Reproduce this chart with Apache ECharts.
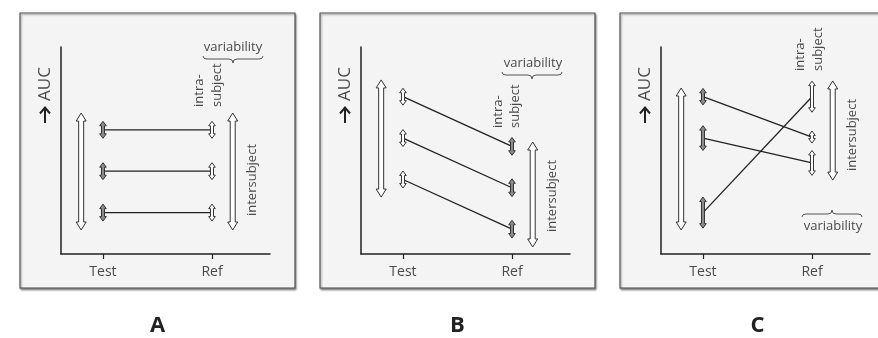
<!DOCTYPE html>
<html>
<head>
<meta charset="utf-8">
<script src="https://cdn.jsdelivr.net/npm/echarts@6/dist/echarts.min.js"></script>
<style>
  html, body { margin: 0; padding: 0; background: #ffffff; }
  #chart { width: 878px; height: 338px; }
</style>
</head>
<body>
<div id="chart"></div>
<script>
// Category tick labels on the horizontal axis (formulation)
const xCategories = ['Test', 'Ref'];
const panelLetters = ['A', 'B', 'C'];

// AUC per subject (arbitrary units), Test and Ref formulations
const testA = [60, 40, 20];
const refA = [60, 40, 20];
const testB = [76, 56, 36];
const refB = [52, 32, 12];
const testC = [76, 56, 20];
const refC = [56.5, 44, 76];

// Intra-subject half ranges (± around each subject's AUC)
const intraTestA = [4.1, 4.1, 4.1];
const intraRefA = [4.1, 4.1, 4.1];
const intraTestB = [4.1, 4.1, 4.1];
const intraRefB = [4.3, 4.3, 4.3];
const intraTestC = [4, 6, 7.5];
const intraRefC = [2.9, 6, 7.5];

// Intersubject ranges [low, high]
const interTestA = [11.6, 68.1];
const interRefA = [11.6, 68.1];
const interTestB = [27.5, 84.1];
const interRefB = [3.4, 54.1];
const interTestC = [11.6, 80.2];
const interRefC = [35.7, 83.6];

const panelsData = [
  { test: testA, ref: refA, intraTest: intraTestA, intraRef: intraRefA, interTest: interTestA, interRef: interRefA },
  { test: testB, ref: refB, intraTest: intraTestB, intraRef: intraRefB, interTest: interTestB, interRef: interRefB },
  { test: testC, ref: refC, intraTest: intraTestC, intraRef: intraRefC, interTest: interTestC, interRef: interRefC }
];

// ---- layout / style ----
const FONT = '"Open Sans", "Noto Sans", sans-serif';
const TEXT_COLOR = '#4a4a4a';
const INK = '#222';
const STEP = 300;                 // horizontal distance between panels
const INTER_X = [-0.2, 1.19];     // x position of the intersubject arrows (axis units)
const GRAY_SIDE = ['test', 'ref', 'test'];  // which formulation's small arrows are shaded

const chart = echarts.init(document.getElementById('chart'), null, { renderer: 'canvas' });

function arrowPoints(cx, yTop, yBot, big) {
  const sw = big ? 2.5 : 1.5;
  const hw = big ? 5 : 3.3;
  const hl = big ? 8 : 4.5;
  return [
    [cx, yTop],
    [cx + hw, yTop + hl],
    [cx + sw, yTop + hl],
    [cx + sw, yBot - hl],
    [cx + hw, yBot - hl],
    [cx, yBot],
    [cx - hw, yBot - hl],
    [cx - sw, yBot - hl],
    [cx - sw, yTop + hl],
    [cx - hw, yTop + hl]
  ];
}

function renderArrow(params, api) {
  const x = api.value(0);
  const lo = api.value(1);
  const hi = api.value(2);
  const kind = api.value(3);   // 0 = intersubject, 1 = small white, 2 = small shaded
  const top = api.coord([x, hi]);
  const bot = api.coord([x, lo]);
  return {
    type: 'polygon',
    shape: { points: arrowPoints(top[0], top[1], bot[1], kind === 0) },
    style: {
      fill: kind === 2 ? '#8c8c8c' : '#ffffff',
      stroke: '#333',
      lineWidth: 1
    },
    z2: 10
  };
}

const grids = [], xAxes = [], yAxes = [], series = [], graphics = [];

panelsData.forEach((p, i) => {
  const off = STEP * i;
  grids.push({ left: 61 + off, top: 47, width: 209, height: 207 });
  xAxes.push({
    type: 'value', gridIndex: i, min: -0.385, max: 1.532,
    axisLine: { show: true, onZero: false, lineStyle: { color: INK, width: 1.5 } },
    splitLine: { show: false },
    axisTick: { show: true, customValues: [0, 1], length: 5, lineStyle: { color: INK, width: 1.2 } },
    axisLabel: {
      show: true, customValues: [0, 1], margin: 11,
      formatter: v => xCategories[Math.round(v)],
      fontFamily: FONT, fontSize: 14, color: TEXT_COLOR
    }
  });
  yAxes.push({
    type: 'value', gridIndex: i, min: 0, max: 100,
    axisLine: { show: true, onZero: false, lineStyle: { color: INK, width: 1.5 } },
    splitLine: { show: false }, axisTick: { show: false }, axisLabel: { show: false }
  });

  // subject lines Test -> Ref
  p.test.forEach((t, k) => {
    series.push({
      type: 'line', xAxisIndex: i, yAxisIndex: i,
      data: [[0, t], [1, p.ref[k]]],
      symbol: 'none', silent: true, animation: false,
      lineStyle: { color: INK, width: 1.3 }, z: 3
    });
  });

  // arrows
  const arrows = [];
  arrows.push([INTER_X[0], p.interTest[0], p.interTest[1], 0]);
  arrows.push([INTER_X[1], p.interRef[0], p.interRef[1], 0]);
  p.test.forEach((t, k) => {
    arrows.push([0, t - p.intraTest[k], t + p.intraTest[k], GRAY_SIDE[i] === 'test' ? 2 : 1]);
  });
  p.ref.forEach((r, k) => {
    arrows.push([1, r - p.intraRef[k], r + p.intraRef[k], GRAY_SIDE[i] === 'ref' ? 2 : 1]);
  });
  series.push({
    type: 'custom', xAxisIndex: i, yAxisIndex: i,
    renderItem: renderArrow, data: arrows,
    encode: { x: 0, y: [1, 2] }, silent: true, animation: false, z: 5
  });

  // panel frame
  graphics.push({
    type: 'rect', z: -10,
    shape: { x: 20 + off, y: 13, width: 275, height: 275 },
    style: {
      fill: '#f4f4f4', stroke: '#4a4a4a', lineWidth: 1.1,
      shadowBlur: 2, shadowOffsetX: 1, shadowOffsetY: 1.5, shadowColor: 'rgba(0,0,0,0.4)'
    }
  });

  // "→ AUC"
  graphics.push({
    type: 'text', x: 45 + off, y: 84, rotation: Math.PI / 2, z: 20,
    style: { text: 'AUC', font: '17px ' + FONT, fill: TEXT_COLOR,
             align: 'center', verticalAlign: 'middle', textAlign: 'center', textVerticalAlign: 'middle' }
  });
  graphics.push({
    type: 'polyline', z: 20,
    shape: { points: [[45 + off, 123], [45 + off, 108]] },
    style: { stroke: INK, lineWidth: 2, fill: null }
  });
  graphics.push({
    type: 'polyline', z: 20,
    shape: { points: [[40 + off, 113.5], [45 + off, 107.5], [50 + off, 113.5]] },
    style: { stroke: INK, lineWidth: 2, fill: null }
  });

  // panel letter
  graphics.push({
    type: 'text', x: 157.5 + off, y: 326, z: 20,
    style: { text: panelLetters[i], font: 'bold 22px ' + FONT, fill: INK,
             align: 'center', verticalAlign: 'middle', textAlign: 'center', textVerticalAlign: 'middle' }
  });
});

// annotation texts: intersubject, intra-subject, variability with brace
const interLabel = [[252, 180], [552, 196], [852, 135]];
const intraLabel = [[199, 217, 107], [498, 515, 128], [800, 818, 71]];
const varLabel = [[233, 47, 233, 59, 1], [533, 63, 532, 75, 1], [833, 226, 832, 214, -1]];

interLabel.forEach(([x, y]) => {
  graphics.push({
    type: 'text', x, y, rotation: Math.PI / 2, z: 20,
    style: { text: 'intersubject', font: '13px ' + FONT, fill: TEXT_COLOR,
             align: 'center', verticalAlign: 'middle', textAlign: 'center', textVerticalAlign: 'middle' }
  });
});
intraLabel.forEach(([x1, x2, yb]) => {
  [['intra-', x1], ['subject', x2]].forEach(([t, x]) => {
    graphics.push({
      type: 'text', x, y: yb, rotation: Math.PI / 2, z: 20,
      style: { text: t, font: '13px ' + FONT, fill: TEXT_COLOR,
               align: 'left', verticalAlign: 'middle', textAlign: 'left', textVerticalAlign: 'middle' }
    });
  });
});

// curly brace made of quadratic curves and straight runs
function brace(cx, cy, d, w) {
  const st = { stroke: '#555', lineWidth: 1, fill: null };
  const curve = (x1, y1, cpx, cpy, x2, y2) => ({
    type: 'bezierCurve', z: 20, style: st,
    shape: { x1, y1, x2, y2, cpx1: cpx, cpy1: cpy }
  });
  const seg = (x1, y1, x2, y2) => ({ type: 'line', z: 20, style: st, shape: { x1, y1, x2, y2 } });
  return [
    curve(cx - w, cy - 3 * d, cx - w, cy, cx - w + 4, cy),
    seg(cx - w + 4, cy, cx - 4, cy),
    curve(cx - 4, cy, cx, cy, cx, cy + 4 * d),
    curve(cx, cy + 4 * d, cx, cy, cx + 4, cy),
    seg(cx + 4, cy, cx + w - 4, cy),
    curve(cx + w - 4, cy, cx + w, cy, cx + w, cy - 3 * d)
  ];
}

varLabel.forEach(([tx, ty, cx, cy, d]) => {
  graphics.push({
    type: 'text', x: tx, y: ty, z: 20,
    style: { text: 'variability', font: '13px ' + FONT, fill: TEXT_COLOR,
             align: 'center', verticalAlign: 'middle', textAlign: 'center', textVerticalAlign: 'middle' }
  });
  brace(cx, cy, d, 30).forEach(el => graphics.push(el));
});

chart.setOption({
  animation: false,
  backgroundColor: '#ffffff',
  grid: grids,
  xAxis: xAxes,
  yAxis: yAxes,
  series: series,
  graphic: { elements: graphics }
});
</script>
</body>
</html>
